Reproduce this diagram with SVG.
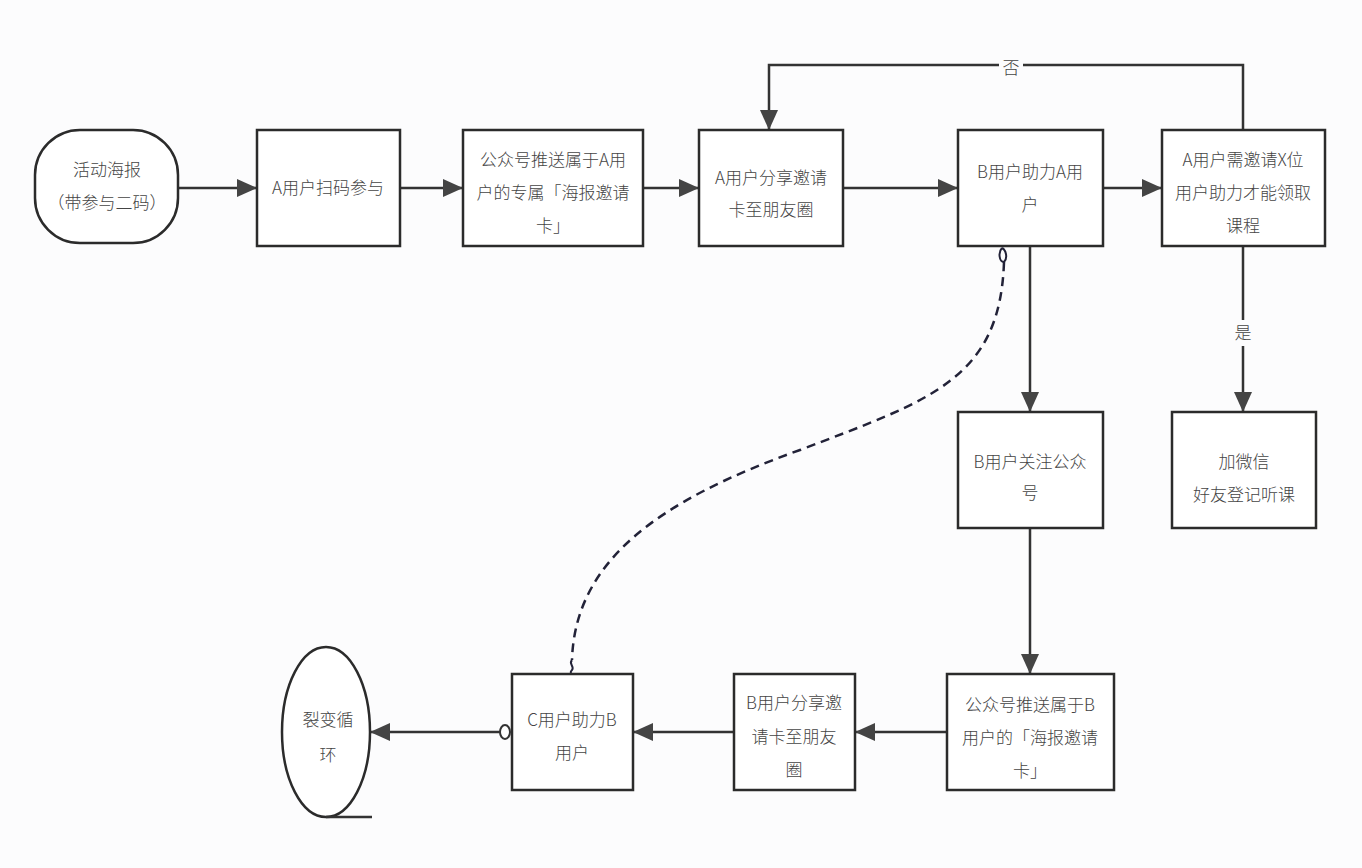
<svg xmlns="http://www.w3.org/2000/svg" width="1362" height="868" viewBox="0 0 1362 868">
<style>
.box{fill:#fff;stroke:#2b2b2b;stroke-width:2.5}
.t{font-family:"Noto Sans CJK SC","Liberation Sans",sans-serif;font-size:17px;fill:#444;text-anchor:middle;font-weight:300}
.ln{fill:none;stroke:#333;stroke-width:2.5}
.dash{fill:none;stroke:#222238;stroke-width:2.5;stroke-dasharray:9 6}
</style>
<defs>
<marker id="ah" markerWidth="20" markerHeight="18" refX="20" refY="9" orient="auto" markerUnits="userSpaceOnUse">
<path d="M0,0 L20,9 L0,18 Z" fill="#444"/>
</marker>
</defs>
<rect width="1362" height="868" fill="#fcfcfd"/>
<g id="connectors">
<line class="ln" x1="178" y1="188" x2="257" y2="188" marker-end="url(#ah)"/>
<line class="ln" x1="400" y1="188" x2="463" y2="188" marker-end="url(#ah)"/>
<line class="ln" x1="643" y1="188" x2="699" y2="188" marker-end="url(#ah)"/>
<line class="ln" x1="843" y1="188" x2="958" y2="188" marker-end="url(#ah)"/>
<line class="ln" x1="1103" y1="188" x2="1162" y2="188" marker-end="url(#ah)"/>
<polyline class="ln" points="1243,130 1243,65 769,65 769,130" marker-end="url(#ah)"/>
<rect x="999" y="57" width="24" height="20" fill="#fcfcfd"/>
<text class="t" x="1011" y="74">否</text>
<line class="ln" x1="1243" y1="246" x2="1243" y2="412" marker-end="url(#ah)"/>
<rect x="1232" y="320" width="22" height="26" fill="#fcfcfd"/>
<text class="t" x="1243" y="339">是</text>
<line class="ln" x1="1030" y1="246" x2="1030" y2="412" marker-end="url(#ah)"/>
<line class="ln" x1="1030" y1="528" x2="1030" y2="674" marker-end="url(#ah)"/>
<line class="ln" x1="947" y1="732" x2="855" y2="732" marker-end="url(#ah)"/>
<line class="ln" x1="734" y1="732" x2="633" y2="732" marker-end="url(#ah)"/>
<line class="ln" x1="500" y1="732" x2="370" y2="732" marker-end="url(#ah)"/>
<ellipse cx="505" cy="732" rx="5" ry="7" fill="#fff" stroke="#333" stroke-width="2"/>
<path class="dash" d="M1004 262 C1000 380,930 400,800 450 C660 500,575 560,572 660"/>
<path d="M1002 248 C998 252,999 262,1004 262 C1008 258,1006 250,1002 248" fill="none" stroke="#222238" stroke-width="2"/>
<path d="M572 660 C568 664,575 666,572 670 C569 673,572 674,573 675" fill="none" stroke="#222238" stroke-width="2"/>
</g>
<g id="n1">
<rect class="box" x="35" y="130" width="143" height="113" rx="45" ry="45"/>
<text class="t" x="107" y="176">活动海报</text>
<text class="t" x="107" y="209">（带参与二码）</text>
</g>
<g id="n2">
<rect class="box" x="257" y="130" width="143" height="116"/>
<text class="t" x="328" y="194">A用户扫码参与</text>
</g>
<g id="n3">
<rect class="box" x="463" y="130" width="180" height="116"/>
<text class="t" x="553" y="166">公众号推送属于A用</text>
<text class="t" x="553" y="199">户的专属「海报邀请</text>
<text class="t" x="553" y="232">卡」</text>
</g>
<g id="n4">
<rect class="box" x="699" y="130" width="144" height="116"/>
<text class="t" x="771" y="184">A用户分享邀请</text>
<text class="t" x="771" y="216">卡至朋友圈</text>
</g>
<g id="n5">
<rect class="box" x="958" y="130" width="145" height="116"/>
<text class="t" x="1030" y="178">B用户助力A用</text>
<text class="t" x="1030" y="211">户</text>
</g>
<g id="n6">
<rect class="box" x="1162" y="130" width="163" height="116"/>
<text class="t" x="1243" y="166">A用户需邀请X位</text>
<text class="t" x="1243" y="199">用户助力才能领取</text>
<text class="t" x="1243" y="232">课程</text>
</g>
<g id="n7">
<rect class="box" x="1172" y="412" width="144" height="116"/>
<text class="t" x="1244" y="468">加微信</text>
<text class="t" x="1244" y="501">好友登记听课</text>
</g>
<g id="n8">
<rect class="box" x="958" y="412" width="145" height="116"/>
<text class="t" x="1030" y="468">B用户关注公众</text>
<text class="t" x="1030" y="499">号</text>
</g>
<g id="n9">
<rect class="box" x="947" y="674" width="167" height="116"/>
<text class="t" x="1030" y="711">公众号推送属于B</text>
<text class="t" x="1030" y="744">用户的「海报邀请</text>
<text class="t" x="1030" y="777">卡」</text>
</g>
<g id="n10">
<rect class="box" x="734" y="674" width="121" height="116"/>
<text class="t" x="794" y="709">B用户分享邀</text>
<text class="t" x="794" y="743">请卡至朋友</text>
<text class="t" x="794" y="776">圈</text>
</g>
<g id="n11">
<rect class="box" x="512" y="674" width="121" height="116"/>
<text class="t" x="572" y="726">C用户助力B</text>
<text class="t" x="572" y="759">用户</text>
</g>
<g id="n12">
<ellipse class="box" cx="326" cy="732" rx="44" ry="85"/>
<line class="ln" x1="326" y1="817" x2="372" y2="817"/>
<text class="t" x="328" y="726">裂变循</text>
<text class="t" x="328" y="761">环</text>
</g>
</svg>
